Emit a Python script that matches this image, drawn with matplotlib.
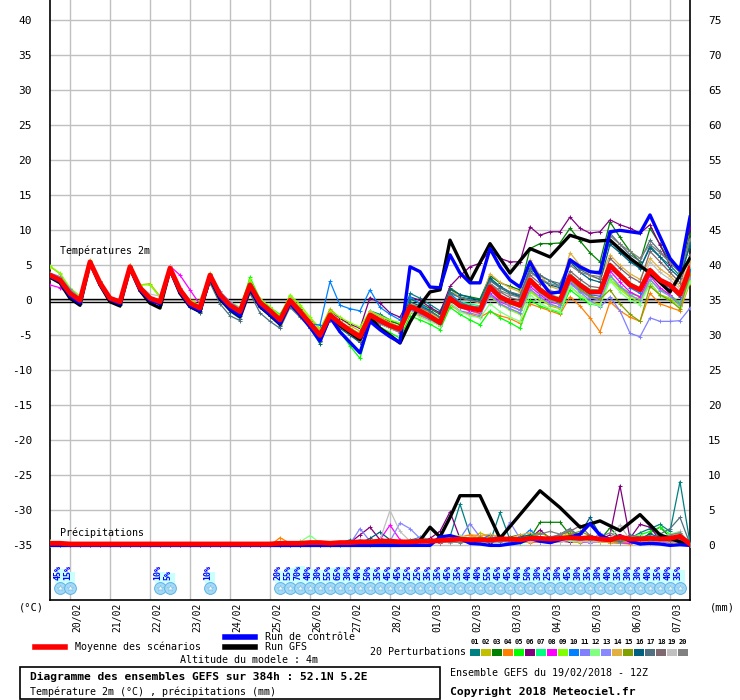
import numpy as np
import matplotlib.pyplot as plt
from matplotlib.lines import Line2D
from matplotlib.patches import Rectangle

# time axis (hours from 19/02 12Z)
hours = np.arange(0, 385, 6)
gfs_hours = np.r_[np.arange(0, 241, 6), np.arange(252, 385, 12)]
gfs_p_hours = np.r_[np.arange(0, 241, 6), np.arange(246, 379, 12), 384]

day_hours = np.arange(12, 384, 24)
day_labels = ['20/02', '21/02', '22/02', '23/02', '24/02', '25/02', '26/02', '27/02',
              '28/02', '01/03', '02/03', '03/03', '04/03', '05/03', '06/03', '07/03']

# temperature 2m (C)
t_mean = [3.6, 2.9, 1.0, 0.0, 5.5, 2.5, 0.3, -0.2, 4.8, 1.8, 0.3, -0.2, 4.6, 1.5, -0.4, -1.1,
          3.6, 0.8, -0.7, -1.6, 2.2, -0.3, -1.5, -2.8,
          0.0, -1.6, -3.3, -5.0, -2.1, -3.3, -4.3, -5.2, -2.1, -2.9, -3.6, -4.1, -0.9, -1.5, -2.3, -3.2,
          0.3, -0.8, -1.1, -1.4,
          1.9, 0.5, -0.2, -0.7, 2.9, 1.5, 0.5, 0.0, 3.4, 2.2, 1.2, 1.2, 5.0, 3.6, 2.2, 1.5, 4.3, 2.9,
          2.2, 0.8, 4.6]
t_ctrl = [3.4, 2.7, 0.6, -0.4, 5.4, 2.3, 0.1, -0.5, 4.7, 1.5, 0.0, -0.5, 4.4, 1.2, -0.8, -1.5,
          3.3, 0.4, -1.2, -2.2, 1.8, -0.8, -2.0, -3.3,
          -0.4, -2.0, -3.8, -5.8, -2.4, -4.5, -6.0, -7.5, -3.0, -4.2, -5.2, -6.0, 4.8, 4.1, 1.9, 1.8,
          6.5, 3.9, 2.5, 2.5,
          7.4, 4.8, 2.9, 1.9, 5.5, 2.9, 1.0, 1.2, 5.8, 4.8, 4.1, 3.9, 9.8, 10.0, 9.8, 9.6, 12.2, 9.1,
          6.0, 4.3, 11.9]
t_gfs = [3.3, 2.5, 0.3, -0.7, 5.4, 2.2, -0.2, -0.8, 4.6, 1.4, -0.4, -1.1, 4.4, 1.0, -0.9, -1.6,
         3.2, 0.2, -1.3, -2.3, 1.6, -0.9, -2.1, -3.4,
         -0.3, -2.0, -3.6, -5.4, -2.2, -3.6, -4.6, -5.6, -2.4, -4.0, -5.0, -6.1, -3.1, -0.7, 1.2, 1.5,
         8.6,
         2.7, 8.1, 3.9, 7.4, 6.2, 9.3, 8.4, 8.6, 6.0, 3.9, 1.2, 6.0]

t01 = [3.3, 2.6, 0.6, -0.3, 5.4, 2.3, 0.1, -0.5, 4.7, 1.6, 0.0, -0.5, 4.3, 1.2, -0.8, -1.5, 3.2, 0.4, -1.2, -2.2, 1.8, -0.8, -2.0, -3.2,
       -0.5, -2.0, -3.8, -5.8, -2.6, -3.6, -4.8, -6.0, -1.5, -2.0, -2.8, -3.5, 1.0, 0.3, -0.6, -1.5, 1.2, 0.5, 0.2, -0.3,
       3.0, 1.8, 1.0, 0.5, 4.5, 3.5, 2.8, 2.0, 5.8, 4.5, 4.0, 4.2, 8.5, 7.0, 5.8, 4.5, 7.8, 6.2, 5.0, 3.5, 8.0]
t02 = [4.8, 3.8, 1.6, 0.5, 5.6, 2.8, 0.5, 0.0, 5.0, 2.2, 2.4, 0.6, 4.8, 1.8, 0.0, 0.0, 3.8, 1.0, -0.5, -1.3, 2.6, 0.0, -1.0, -2.4,
       0.6, -1.0, -2.6, -4.2, -1.2, -2.5, -3.6, -4.4, -1.6, -2.4, -3.2, -3.8, -0.6, -1.2, -2.0, -2.8, 0.0, -1.0, -1.5, -2.0,
       0.8, -0.5, -1.2, -1.8, 1.5, 0.2, -0.8, -1.2, 2.0, 0.8, -0.2, -0.5, 3.0, 1.8, 0.6, 0.2, 2.5, 0.8, 0.3, -0.6, 3.2]
t03 = [3.8, 3.1, 1.2, 0.2, 5.5, 2.6, 0.4, -0.1, 4.9, 2.0, 0.5, 0.0, 4.7, 1.7, -0.2, -0.9, 3.7, 1.0, -0.5, -1.4, 2.4, -0.1, -1.3, -2.6,
       0.3, -1.3, -3.0, -4.6, -1.8, -3.0, -4.0, -4.8, -1.8, -2.5, -3.0, -3.4, 0.2, -0.4, -1.2, -2.0, 1.8, 0.8, 0.5, 0.2,
       3.5, 2.5, 2.0, 1.5, 7.4, 8.1, 8.1, 8.2, 10.3, 8.5, 6.8, 5.5, 11.2, 9.0, 7.0, 5.5, 10.3, 8.0, 5.5, 4.0, 9.5]
t04 = [3.2, 2.6, 0.8, -0.2, 5.3, 2.3, 0.2, -0.4, 4.6, 1.6, 0.1, -0.4, 4.4, 1.3, -0.6, -1.3, 3.4, 0.6, -1.0, -1.9, 1.9, -0.8, -2.2, -3.5,
       -0.6, -2.2, -3.8, -5.4, -2.8, -3.6, -4.6, -5.6, -2.8, -3.3, -4.0, -4.6, -1.8, -2.2, -2.8, -3.6, -0.6, -1.6, -2.0, -2.4,
       -1.6, -2.2, -2.6, -3.3, -0.5, -1.0, -1.5, -2.0, 0.5, -0.8, -2.5, -4.5, -0.2, -1.5, -2.4, -3.0, 1.0, -0.5, -1.0, -1.5, 2.5]
t05 = [3.5, 2.8, 0.9, -0.1, 5.6, 2.5, 0.3, -0.3, 4.8, 1.8, 0.2, -0.3, 4.6, 1.5, -0.5, -1.2, 3.8, 1.0, -0.5, -1.3, 3.3, 0.2, -1.0, -2.0,
       0.4, -1.8, -4.0, -6.0, -2.6, -4.5, -6.5, -8.3, -3.0, -3.8, -4.6, -5.4, -2.2, -2.8, -3.4, -4.2, -1.0, -2.0, -2.8, -3.5,
       -1.5, -2.5, -3.2, -4.0, 0.0, -0.8, -1.3, -1.8, 1.5, 0.4, -0.5, -0.8, 3.5, 2.0, 1.0, 0.5, 3.0, 1.5, 0.8, -0.4, 3.0]
t06 = [3.6, 3.0, 1.1, 0.1, 5.5, 2.6, 0.4, -0.1, 4.8, 1.9, 0.4, -0.1, 4.6, 1.6, -0.3, -1.0, 3.7, 0.9, -0.6, -1.4, 2.3, -0.2, -1.3, -2.6,
       0.2, -1.4, -3.0, -4.6, -1.5, -2.6, -3.4, -4.0, 0.4, -0.4, -1.8, -2.4, 0.5, 0.0, -1.0, -1.8, 2.0, 3.5, 4.8, 5.3,
       7.2, 6.0, 5.5, 5.5, 10.5, 9.3, 9.8, 9.8, 11.9, 10.3, 9.6, 9.8, 11.5, 10.8, 10.3, 9.6, 10.8, 7.9, 5.0, 4.8, 10.3]
t07 = [3.7, 3.0, 1.2, 0.2, 5.6, 2.7, 0.5, 0.0, 4.9, 2.0, 0.4, -0.1, 4.7, 1.6, -0.3, -1.0, 3.7, 0.9, -0.6, -1.5, 2.4, -0.2, -1.4, -2.7,
       0.0, -1.6, -3.2, -4.8, -2.0, -3.2, -4.0, -4.8, -2.0, -2.8, -3.4, -3.8, -0.6, -1.2, -2.0, -2.8, 0.8, -0.2, -0.5, -0.8,
       2.2, 0.8, 0.0, -0.5, 3.2, 1.8, 0.8, 0.4, 3.8, 2.5, 1.6, 1.4, 5.2, 3.8, 2.5, 1.8, 4.5, 3.0, 2.4, 1.0, 4.8]
t08 = [2.2, 1.8, 0.8, 0.0, 5.4, 2.5, 0.3, -0.2, 4.7, 1.8, 0.3, -0.2, 4.9, 3.6, 1.5, -0.6, 3.8, 0.9, -0.6, -1.6, 2.1, -0.4, -1.6, -3.0,
       -0.3, -1.8, -3.6, -5.8, -2.4, -3.6, -4.6, -6.0, -2.4, -3.2, -3.8, -4.4, -1.0, -1.7, -2.5, -3.3, 0.2, -1.0, -1.5, -1.8,
       1.0, -0.2, -0.8, -1.4, 2.0, 0.8, -0.2, -0.6, 2.6, 1.4, 0.5, 0.3, 4.2, 2.6, 1.2, 0.5, 3.5, 1.8, 0.8, -0.8, 4.0]
t09 = [4.9, 3.9, 1.8, 0.6, 5.7, 2.8, 0.5, 0.0, 5.0, 2.2, 2.2, 0.4, 4.8, 1.8, -0.1, -0.6, 3.9, 1.2, -0.2, -1.0, 3.0, 0.2, -0.9, -2.2,
       0.8, -0.6, -2.4, -4.0, -1.5, -2.4, -3.2, -3.8, -1.5, -2.2, -2.8, -3.2, -0.6, -1.2, -2.0, -2.8, 0.5, -0.8, -1.2, -1.6,
       0.6, -0.6, -1.4, -2.0, 1.2, 0.2, -0.6, -1.1, 2.0, 0.8, -0.3, -0.6, 3.0, 1.6, 0.4, -0.2, 2.4, 0.8, 0.2, -0.8, 2.8]
t10 = [3.4, 2.8, 0.8, -0.2, 5.4, 2.3, 0.1, -0.4, 4.7, 1.6, 0.1, -0.4, 4.4, 1.3, -0.6, -1.3, 3.3, 0.5, -1.0, -2.0, 1.9, -0.7, -1.8, -3.1,
       -0.4, -2.0, -3.4, -3.5, 2.7, -0.7, -1.2, -1.5, 1.5, -1.0, -2.0, -2.8, 0.5, -0.5, -1.5, -2.5, 1.0, -0.3, -0.8, -1.0,
       2.0, 0.6, 0.0, -0.5, 2.8, 1.2, 0.2, -0.2, 3.2, 1.8, 0.8, 0.6, 4.6, 3.2, 1.8, 1.0, 4.0, 2.6, 1.8, 0.5, 4.2]
t11 = [3.9, 3.4, 1.6, 0.3, 5.5, 2.7, 0.5, 0.0, 4.8, 1.9, 0.4, -0.1, 4.8, 1.8, -0.2, -0.9, 3.6, 1.3, -0.2, -1.2, 2.2, -0.2, -1.3, -2.6,
       -0.2, -1.8, -3.6, -5.2, -2.4, -3.5, -4.5, -5.4, -2.6, -3.4, -4.0, -4.6, -1.4, -2.0, -2.8, -3.6, -0.4, -1.5, -1.8, -2.2,
       0.8, -0.5, -1.2, -1.8, 1.6, 0.5, -0.5, -1.0, 2.4, 1.2, 0.0, -1.0, 0.5, -1.5, -4.7, -5.2, -2.5, -3.0, -3.0, -2.9, -1.1]
t12 = [3.6, 2.9, 1.0, -0.1, 5.6, 2.6, 0.4, -0.2, 4.8, 1.9, 0.3, -0.2, 4.7, 1.6, -0.4, -1.1, 3.6, 0.9, -0.7, -1.5, 2.4, -0.2, -1.4, -2.7,
       0.4, -1.4, -3.2, -5.0, -2.0, -3.4, -4.6, -5.6, -2.4, -3.2, -4.0, -4.4, -1.6, -2.4, -3.0, -3.6, -0.4, -1.6, -2.2, -2.5,
       -0.5, -1.6, -2.4, -3.0, 0.8, -0.4, -1.2, -1.6, 2.0, 0.8, -0.4, -0.8, 2.8, 1.2, 0.0, -0.6, 2.4, 0.6, 0.0, -1.0, 2.6]
t13 = [3.5, 2.9, 1.1, 0.0, 5.5, 2.5, 0.3, -0.2, 4.8, 1.8, 0.3, -0.2, 4.6, 1.5, -0.4, -1.1, 3.6, 0.8, -0.7, -1.6, 2.2, -0.3, -1.5, -2.8,
       -0.1, -1.7, -3.4, -5.1, -2.2, -3.4, -4.4, -5.3, -2.2, -3.0, -3.7, -4.2, -1.0, -1.6, -2.4, -3.3, 0.2, -0.9, -1.2, -1.5,
       1.5, 0.0, -0.8, -1.4, 2.4, 1.0, 0.0, -0.6, 2.8, 1.4, 0.4, 0.0, 3.6, 2.0, 0.8, 0.0, 3.0, 1.4, 0.6, -0.6, 3.4]
t14 = [3.7, 3.0, 1.1, 0.1, 5.5, 2.6, 0.4, -0.1, 4.8, 1.9, 0.4, -0.1, 4.6, 1.6, -0.3, -1.0, 3.7, 0.9, -0.6, -1.5, 2.3, -0.2, -1.4, -2.7,
       0.2, -1.4, -3.0, -4.8, -1.8, -3.0, -4.0, -4.8, -1.6, -2.4, -3.2, -3.8, -0.4, -1.0, -1.8, -2.6, 1.6, 0.4, 0.0, -0.4,
       3.8, 2.6, 1.8, 1.2, 5.8, 3.6, 2.0, 1.5, 6.8, 5.0, 3.5, 3.0, 6.5, 5.0, 3.8, 3.0, 6.0, 4.5, 3.5, 2.0, 5.5]
t15 = [3.8, 3.2, 1.3, 0.2, 5.5, 2.6, 0.4, -0.1, 4.8, 1.9, 0.4, -0.1, 4.7, 1.7, -0.2, -0.9, 3.7, 1.0, -0.5, -1.4, 2.3, -0.1, -1.3, -2.6,
       0.2, -1.4, -3.2, -4.9, -2.0, -3.2, -4.2, -5.0, -2.0, -2.8, -3.5, -4.0, -0.8, -1.4, -2.2, -3.0, 0.4, -0.6, -1.0, -1.2,
       1.6, 0.2, -0.5, -1.0, 2.6, 1.2, 0.2, -0.4, 3.0, 1.6, 0.6, 0.2, 1.5, -0.5, -2.0, -3.0, 2.0, 0.8, 0.0, -1.2, 3.8]
t16 = [3.3, 2.6, 0.5, -0.5, 5.3, 2.2, 0.0, -0.6, 4.6, 1.4, -0.1, -0.6, 4.2, 1.0, -1.0, -1.8, 2.8, 0.0, -1.6, -2.6, 1.6, -1.0, -2.3, -3.6,
       -0.8, -2.2, -4.0, -6.2, -2.8, -4.0, -5.0, -6.0, -2.6, -3.2, -3.8, -4.4, -0.2, -0.8, -1.5, -2.4, 1.6, 0.8, 0.4, 0.0,
       3.2, 2.0, 1.2, 0.6, 4.2, 3.0, 2.2, 1.8, 5.5, 4.0, 3.0, 2.6, 8.0, 6.8, 5.5, 4.6, 7.5, 6.2, 4.5, 3.2, 7.8]
t17 = [3.4, 2.7, 0.7, -0.4, 5.4, 2.3, 0.1, -0.5, 4.6, 1.5, 0.0, -0.5, 4.3, 1.0, -0.9, -1.7, 2.5, -0.5, -2.2, -2.9, 1.0, -1.8, -3.0, -4.0,
       -1.0, -2.4, -4.0, -5.8, -2.6, -3.8, -4.8, -5.8, -2.6, -3.2, -3.8, -4.2, -0.6, -1.0, -1.6, -2.4, 1.0, 0.4, 0.0, -0.2,
       2.8, 1.8, 1.2, 0.8, 4.6, 3.6, 2.8, 2.4, 5.6, 4.4, 3.6, 3.0, 9.6, 8.0, 6.5, 5.6, 8.6, 7.0, 5.4, 4.0, 8.6]
t18 = [3.6, 2.9, 1.0, 0.0, 5.5, 2.5, 0.3, -0.2, 4.8, 1.8, 0.3, -0.2, 4.6, 1.5, -0.4, -1.1, 3.5, 0.7, -0.8, -1.7, 2.1, -0.4, -1.6, -2.9,
       -0.2, -1.8, -3.4, -5.2, -2.2, -3.4, -4.4, -5.4, -2.2, -3.0, -3.6, -4.2, -0.8, -1.4, -2.2, -3.0, 0.6, -0.4, -0.8, -1.0,
       2.4, 1.2, 0.4, 0.0, 3.6, 2.4, 1.4, 1.0, 4.2, 3.0, 2.0, 1.8, 6.0, 4.6, 3.4, 2.6, 7.0, 5.5, 4.0, 2.5, 6.5]
t19 = [3.7, 3.0, 1.1, 0.1, 5.6, 2.6, 0.4, -0.1, 5.0, 2.0, 0.9, 0.6, 4.9, 1.8, -0.1, -0.8, 3.8, 1.0, -0.5, -1.4, 2.4, -0.1, -1.3, -2.6,
       0.2, -1.5, -3.2, -4.9, -2.1, -3.2, -4.2, -5.0, -2.0, -2.8, -3.4, -4.0, -0.8, -1.4, -2.2, -3.0, 0.4, -0.8, -1.2, -1.4,
       2.0, 0.8, 0.0, -0.6, 3.2, 1.8, 0.8, 0.3, 3.6, 2.4, 1.5, 1.2, 4.8, 3.5, 2.4, 1.8, 5.5, 4.0, 3.0, 1.6, 5.0]
t20 = [3.6, 2.9, 1.0, 0.0, 5.5, 2.5, 0.3, -0.2, 4.8, 1.8, 0.3, -0.2, 4.6, 1.5, -0.4, -1.1, 3.6, 0.7, -0.8, -1.7, 2.0, -0.6, -1.8, -3.0,
       -0.3, -1.9, -3.6, -5.6, -2.4, -3.6, -4.6, -5.8, -2.4, -3.2, -3.8, -4.6, -1.2, -1.8, -2.6, -3.4, 0.4, -0.6, -1.0, -1.2,
       2.4, 1.4, 0.8, 0.4, 4.0, 3.0, 2.4, 2.0, 5.0, 4.0, 3.6, 3.4, 9.2, 8.0, 7.0, 6.0, 8.0, 6.8, 5.4, 4.0, 8.8]

# precipitation (mm / 6h)
p_mean = [0.3, 0.3, 0.2, 0.2, 0.2, 0.2, 0.2, 0.2, 0.2, 0.2, 0.2, 0.2, 0.2, 0.2, 0.2, 0.2, 0.2, 0.2, 0.2, 0.2,
          0.2, 0.2, 0.2, 0.3, 0.3, 0.3, 0.4, 0.4, 0.3, 0.4, 0.4, 0.5, 0.5, 0.6, 0.6, 0.5, 0.5, 0.6, 0.6, 0.7,
          0.8, 0.9, 0.8, 0.8, 0.8, 0.9, 0.9, 0.8, 1.0, 1.0, 0.9, 1.0, 1.1, 1.0, 1.1, 0.9, 0.8, 1.2, 0.9, 0.9,
          1.0, 0.9, 1.0, 1.3, 0.2]
p_ctrl = [0, 0, 0, 0, 0, 0, 0, 0, 0, 0, 0, 0, 0, 0, 0, 0, 0, 0, 0, 0,
          0, 0, 0, 0, 0, 0, 0, 0, 0, 0, 0, 0, 0, 0, 0, 0, 0, 0, 0, 1.2,
          1.4, 1.0, 0.3, 0.2, 0.0, 0.0, 0.2, 0.4, 1.0, 0.6, 0.4, 0.8, 1.2, 1.6, 3.1, 1.5, 0.8, 1.4, 0.6, 0.2,
          0.3, 0.2, 0.0, 0.1, 0.0]
p_gfs = [0, 0, 0, 0, 0, 0, 0, 0, 0, 0, 0, 0, 0, 0, 0, 0, 0, 0, 0, 0,
         0, 0, 0, 0, 0, 0, 0, 0, 0, 0, 0, 0, 0, 0, 0, 0, 0.2, 0.7, 2.6, 1.2,
         4.0, 7.1, 7.1, 1.0, 4.4, 7.8, 5.4, 2.6, 3.5, 2.1, 4.4, 1.5, 0.5, 0.0]

p01 = [0, 0, 0, 0, 0, 0, 0, 0, 0, 0, 0, 0, 0, 0, 0, 0, 0, 0, 0, 0,
       0, 0, 0, 0, 0.2, 0.3, 0.2, 0.3, 0.2, 0.3, 0.8, 0.5, 0.3, 1.0, 0.6, 0.4, 0.8, 1.0, 0.6, 0.5,
       1.2, 5.9, 1.5, 0.6, 0.4, 4.7, 0.8, 0.5, 0.6, 1.0, 0.8, 0.6, 1.2, 0.8, 1.5, 0.8, 0.6, 0.5, 1.0, 1.8,
       2.4, 3.0, 2.0, 9.1, 0.3]
p02 = [0, 0, 0, 0, 0, 0, 0, 0, 0, 0, 0, 0, 0, 0, 0, 0, 0, 0, 0, 0,
       0, 0, 0, 0, 0.1, 0.2, 0.1, 0.0, 0.1, 0.1, 0.2, 0.3, 0.2, 0.4, 0.3, 0.2, 0.5, 0.3, 0.6, 0.8,
       0.8, 1.0, 0.7, 1.8, 1.2, 0.8, 0.6, 1.0, 1.5, 1.2, 0.8, 1.0, 2.0, 1.4, 0.6, 0.5, 0.4, 0.3, 0.4, 0.6,
       0.5, 0.4, 0.6, 0.8, 0.1]
p03 = [0, 0, 0, 0, 0, 0, 0, 0, 0, 0, 0, 0, 0, 0, 0, 0, 0, 0, 0, 0,
       0, 0, 0, 0, 0.1, 0.2, 0.3, 0.2, 0.1, 0.2, 0.3, 0.2, 0.3, 0.5, 0.3, 0.2, 0.4, 0.6, 0.4, 0.5,
       0.6, 0.5, 0.8, 0.6, 0.8, 0.9, 1.2, 1.5, 1.0, 3.3, 3.3, 3.3, 1.5, 0.8, 0.6, 0.8, 2.5, 1.0, 0.6, 0.5,
       1.8, 2.6, 1.2, 0.8, 0.1]
p04 = [0, 0, 0, 0, 0, 0, 0, 0, 0, 0, 0, 0, 0, 0, 0, 0, 0, 0, 0, 0,
       0, 0, 0, 1.1, 0.3, 0.2, 0.1, 0.2, 0.1, 0.1, 0.4, 0.3, 0.2, 0.6, 0.4, 0.3, 0.2, 0.6, 0.4, 0.7,
       1.0, 1.2, 1.5, 1.4, 1.5, 1.3, 1.0, 0.6, 0.4, 0.5, 0.3, 0.6, 0.5, 0.4, 0.8, 0.6, 0.4, 0.3, 0.2, 0.4,
       0.3, 0.5, 0.4, 0.6, 0.1]
p05 = [0, 0, 0, 0, 0, 0, 0, 0, 0, 0, 0, 0, 0, 0, 0, 0, 0, 0, 0, 0,
       0, 0, 0, 0, 0.1, 0.2, 0.4, 0.3, 0.2, 0.1, 0.2, 0.3, 0.1, 0.4, 0.3, 0.5, 0.3, 0.6, 0.8, 0.6,
       0.5, 0.9, 1.0, 0.6, 0.5, 0.8, 0.6, 0.4, 0.6, 0.8, 1.0, 0.8, 0.6, 0.5, 0.6, 0.8, 1.0, 0.8, 1.2, 1.5,
       2.0, 2.6, 1.6, 1.8, 0.2]
p06 = [0, 0, 0, 0, 0, 0, 0, 0, 0, 0, 0, 0, 0, 0, 0, 0, 0, 0, 0, 0,
       0, 0, 0, 0, 0.1, 0.2, 0.2, 0.3, 0.2, 0.3, 0.4, 1.5, 2.6, 0.8, 0.5, 0.4, 0.6, 0.5, 1.0, 2.0,
       4.8, 1.0, 0.6, 0.5, 0.4, 0.6, 0.8, 0.6, 1.0, 2.2, 1.0, 0.6, 0.5, 0.8, 1.2, 0.8, 1.5, 8.5, 1.0, 3.0,
       2.6, 0.8, 0.6, 0.4, 0.1]
p07 = [0, 0, 0, 0, 0, 0, 0, 0, 0, 0, 0, 0, 0, 0, 0, 0, 0, 0, 0, 0,
       0, 0, 0, 0, 0.2, 0.6, 0.4, 0.3, 0.2, 0.3, 0.2, 0.3, 0.2, 0.4, 0.3, 0.2, 0.4, 0.6, 0.5, 0.4,
       0.6, 0.8, 0.5, 0.6, 0.8, 0.6, 0.4, 0.5, 0.6, 0.8, 0.6, 0.8, 1.0, 0.8, 0.6, 0.5, 0.8, 0.6, 1.0, 0.8,
       0.6, 0.8, 1.0, 0.6, 0.1]
p08 = [0, 0, 0, 0, 0, 0, 0, 0, 0, 0, 0, 0, 0, 0, 0, 0, 0, 0, 0, 0,
       0, 0, 0, 0, 0, 0.1, 0.2, 0.1, 0.3, 0.2, 0.3, 0.2, 0.4, 0.8, 2.9, 0.8, 0.4, 0.3, 0.5, 0.4,
       0.6, 0.5, 0.4, 0.6, 0.8, 0.6, 0.5, 0.8, 0.6, 0.5, 0.4, 0.6, 0.8, 0.5, 0.4, 0.6, 0.5, 0.4, 0.3, 0.6,
       0.8, 0.5, 0.6, 1.0, 0.1]
p09 = [0, 0, 0, 0, 0, 0, 0, 0, 0, 0, 0, 0, 0, 0, 0, 0, 0, 0, 0, 0,
       0, 0, 0, 0, 0.1, 0.1, 0.2, 0.3, 0.1, 0.2, 0.3, 0.2, 0.1, 0.3, 0.2, 0.4, 0.3, 0.5, 0.8, 0.6,
       0.8, 0.6, 0.5, 0.4, 0.6, 0.5, 0.8, 1.0, 1.6, 1.2, 0.8, 1.5, 2.0, 1.2, 0.8, 0.6, 1.0, 0.8, 0.5, 0.6,
       1.0, 0.8, 1.2, 1.5, 0.1]
p10 = [0, 0, 0, 0, 0, 0, 0, 0, 0, 0, 0, 0, 0, 0, 0, 0, 0, 0, 0, 0,
       0, 0, 0, 0, 0.1, 0.2, 0.1, 0.2, 0.3, 0.2, 0.3, 0.2, 0.2, 0.3, 0.4, 0.3, 0.6, 1.2, 0.8, 0.5,
       0.6, 0.8, 0.6, 0.8, 1.5, 1.2, 0.8, 1.0, 2.2, 1.0, 0.6, 0.8, 1.0, 1.6, 3.2, 1.2, 0.8, 1.0, 0.6, 0.4,
       0.6, 0.5, 0.8, 0.6, 0.1]
p11 = [0, 0, 0, 0, 0, 0, 0, 0, 0, 0, 0, 0, 0, 0, 0, 0, 0, 0, 0, 0,
       0, 0, 0, 0, 0.1, 0.1, 0.2, 0.1, 0.3, 0.2, 0.2, 2.4, 0.6, 0.3, 0.4, 0.6, 0.4, 0.5, 0.6, 0.5,
       0.8, 1.0, 3.1, 1.2, 0.8, 0.6, 0.5, 0.8, 0.6, 0.5, 0.6, 0.8, 1.2, 0.8, 0.5, 1.8, 0.6, 0.4, 0.8, 0.6,
       0.4, 0.5, 0.6, 0.8, 0.1]
p12 = [0.6, 0, 0, 0, 0, 0, 0, 0, 0, 0, 0, 0, 0, 0, 0, 0, 0, 0, 0, 0,
       0, 0, 0, 0, 0.2, 0.5, 1.4, 0.4, 0.2, 0.3, 0.2, 0.3, 0.2, 0.4, 0.5, 0.3, 0.6, 1.0, 0.8, 0.6,
       1.2, 1.4, 1.0, 0.8, 0.6, 0.8, 0.6, 0.5, 0.8, 0.6, 0.5, 0.8, 0.6, 0.5, 0.8, 0.6, 0.5, 0.8, 1.2, 1.5,
       1.0, 1.2, 1.6, 2.0, 0.1]
p13 = [0, 0, 0, 0, 0, 0, 0, 0, 0, 0, 0, 0, 0, 0, 0, 0, 0, 0, 0, 0,
       0, 0, 0, 0, 0, 0.1, 0.2, 0.1, 0.2, 0.3, 0.3, 0.8, 0.4, 0.2, 0.6, 3.2, 2.4, 1.0, 0.6, 0.5,
       0.4, 0.6, 0.8, 1.0, 0.6, 0.8, 3.3, 1.0, 0.6, 0.8, 0.6, 0.5, 0.8, 0.6, 0.4, 0.6, 0.5, 0.4, 0.6, 0.8,
       0.5, 0.6, 0.4, 0.6, 0.1]
p14 = [0, 0, 0, 0, 0, 0, 0, 0, 0, 0, 0, 0, 0, 0, 0, 0, 0, 0, 0, 0,
       0, 0, 0, 0, 0.1, 0.1, 0.2, 0.3, 0.2, 0.4, 0.3, 0.2, 0.4, 0.3, 0.2, 0.3, 0.5, 0.4, 0.6, 0.8,
       1.0, 0.8, 1.2, 1.4, 1.6, 1.2, 1.0, 1.5, 1.8, 1.2, 0.8, 0.6, 0.8, 1.0, 0.6, 0.5, 0.4, 0.6, 0.5, 0.4,
       0.6, 0.8, 0.5, 0.4, 0.1]
p15 = [0, 0, 0, 0, 0, 0, 0, 0, 0, 0, 0, 0, 0, 0, 0, 0, 0, 0, 0, 0,
       0, 0, 0, 0, 0.1, 0.2, 0.1, 0.2, 0.3, 0.2, 0.2, 0.3, 0.2, 0.3, 0.2, 0.4, 0.3, 0.5, 0.4, 0.6,
       0.5, 0.6, 0.8, 1.2, 0.8, 0.6, 0.8, 1.0, 1.4, 1.8, 1.2, 1.0, 1.6, 2.0, 1.4, 0.8, 0.6, 0.5, 0.8, 1.2,
       1.0, 0.8, 1.4, 1.0, 0.1]
p16 = [0, 0, 0, 0, 0, 0, 0, 0, 0, 0, 0, 0, 0, 0, 0, 0, 0, 0, 0, 0,
       0, 0, 0, 0, 0.2, 0.1, 0.3, 0.2, 0.4, 0.3, 0.6, 0.3, 1.0, 1.9, 0.8, 0.5, 0.6, 0.8, 0.6, 0.5,
       0.8, 0.6, 0.5, 0.8, 0.6, 1.0, 0.8, 1.2, 1.5, 1.0, 1.2, 1.0, 0.8, 1.6, 4.0, 1.5, 1.0, 0.8, 1.2, 1.0,
       1.6, 1.2, 0.8, 1.0, 0.2]
p17 = [0, 0, 0, 0, 0, 0, 0, 0, 0, 0, 0, 0, 0, 0, 0, 0, 0, 0, 0, 0,
       0, 0, 0, 0, 0.1, 0.2, 0.2, 0.1, 0.3, 0.2, 0.3, 0.4, 0.3, 0.5, 0.4, 0.6, 0.4, 0.5, 0.8, 0.6,
       0.5, 0.8, 0.6, 0.5, 0.8, 1.0, 0.6, 0.8, 1.2, 0.8, 1.0, 1.6, 2.4, 1.2, 0.8, 1.0, 0.8, 0.6, 1.5, 1.2,
       1.0, 1.6, 2.4, 4.0, 0.2]
p18 = [0, 0, 0, 0, 0, 0, 0, 0, 0, 0, 0, 0, 0, 0, 0, 0, 0, 0, 0, 0,
       0, 0, 0, 0, 0.1, 0.1, 0.2, 0.1, 0.2, 0.3, 0.2, 0.4, 0.3, 0.2, 0.5, 0.4, 0.3, 0.6, 0.5, 0.4,
       0.6, 0.5, 0.8, 0.6, 0.5, 0.8, 1.0, 0.6, 0.8, 1.0, 1.2, 1.5, 2.0, 2.8, 1.4, 0.8, 0.6, 0.8, 0.6, 1.0,
       1.4, 0.8, 0.6, 0.8, 0.1]
p19 = [0, 0, 0, 0, 0, 0, 0, 0, 0, 0, 0, 0, 0, 0, 0, 0, 0, 0, 0, 0,
       0, 0, 0, 0, 0.1, 0.2, 0.1, 0.2, 0.3, 0.2, 0.3, 0.4, 0.3, 0.8, 5.0, 2.0, 0.6, 0.4, 0.3, 0.5,
       0.4, 0.6, 0.5, 0.4, 0.6, 0.5, 0.8, 0.6, 0.5, 0.8, 0.6, 0.5, 0.8, 0.6, 0.5, 0.6, 1.0, 2.9, 0.8, 0.6,
       0.8, 0.5, 1.0, 2.0, 0.1]
p20 = [0, 0, 0, 0, 0, 0, 0, 0, 0, 0, 0, 0, 0, 0, 0, 0, 0, 0, 0, 0,
       0, 0, 0, 0, 0.1, 0.1, 0.2, 0.3, 0.2, 0.1, 0.2, 0.3, 0.2, 0.4, 0.3, 0.2, 0.4, 0.5, 0.4, 0.6,
       0.5, 0.4, 0.6, 0.8, 0.6, 0.5, 0.8, 1.0, 1.2, 1.6, 2.0, 1.6, 2.2, 1.0, 0.8, 1.2, 1.8, 1.0, 0.6, 0.8,
       1.2, 1.0, 1.5, 1.8, 0.1]

pert_colors = ['#008080', '#c0c000', '#008000', '#ff8000', '#00ff00', '#800080', '#00ff80',
               '#ff00ff', '#80ff00', '#0080ff', '#8080ff', '#80ff80', '#8888ff', '#e0b040',
               '#80a000', '#006080', '#507080', '#806870', '#c0c0c0', '#808080']

# snow probability labels (hour of step, percent)
snow_hours = [6, 12, 66, 72, 96] + list(range(138, 379, 6))
snow_pct = [45, 15, 10, 5, 10,
            20, 55, 70, 40, 30, 55, 65, 30, 40, 50, 35, 45, 45, 25, 25, 35, 35, 45, 35, 40,
            40, 55, 45, 45, 40, 50, 30, 25, 30, 45, 30, 35, 30, 40, 35, 30, 30, 40, 35, 40, 35]

t_members = [t01, t02, t03, t04, t05, t06, t07, t08, t09, t10,
             t11, t12, t13, t14, t15, t16, t17, t18, t19, t20]
p_members = [p01, p02, p03, p04, p05, p06, p07, p08, p09, p10,
             p11, p12, p13, p14, p15, p16, p17, p18, p19, p20]

PBASE = -35.0
MONO = 'DejaVu Sans Mono'
W, H = 740, 700
PX = 1 / 7.0   # degrees per pixel on the y axis

fig = plt.figure(figsize=(W / 100, H / 100), dpi=100)
ax = fig.add_axes([50 / W, 100 / H, 640 / W, 600 / H])
ax.set_xlim(0, 384)
ax.set_ylim(-42.8, 42.9)

ax.set_yticks(range(-35, 41, 5))
ax.set_yticklabels([str(v) for v in range(-35, 41, 5)], family=MONO, fontsize=8)
ax.set_xticks(day_hours)
ax.set_xticklabels([])
ax.grid(True, color='#c0c0c0', lw=1)
ax.set_axisbelow(True)
ax.tick_params(length=0, pad=13)
for s in ['left', 'right', 'bottom']:
    ax.spines[s].set_color('black')
    ax.spines[s].set_linewidth(1.2)
ax.spines['top'].set_visible(False)

ax2 = ax.twinx()
ax2.set_ylim(ax.get_ylim())
ax2.set_yticks(range(-35, 41, 5))
ax2.set_yticklabels([str(v + 35) for v in range(-35, 41, 5)], family=MONO, fontsize=8)
ax2.tick_params(length=0, pad=13)
for s in ax2.spines.values():
    s.set_visible(False)

# zero line (double)
ax.axhline(0.2, color='black', lw=1, zorder=2)
ax.axhline(-0.25, color='black', lw=1, zorder=2)

# perturbations
for tm, pm, c in zip(t_members, p_members, pert_colors):
    ax.plot(hours, tm, color=c, lw=0.9, marker='+', ms=3, mew=0.7, zorder=3)
    ax.plot(hours, PBASE + np.array(pm), color=c, lw=0.9, marker='+', ms=3, mew=0.7, zorder=3)

ax.plot(gfs_hours, t_gfs, color='black', lw=2.4, zorder=4)
ax.plot(gfs_p_hours, PBASE + np.array(p_gfs), color='black', lw=2.4, zorder=4)
ax.plot(hours, t_ctrl, color='#0000ff', lw=2.4, zorder=5)
ax.plot(hours, PBASE + np.array(p_ctrl), color='#0000ff', lw=2.4, zorder=5)
ax.plot(hours, t_mean, color='#ff0000', lw=3.5, zorder=6)
ax.plot(hours, PBASE + np.array(p_mean), color='#ff0000', lw=3.5, zorder=6)

# snow probabilities
snow_x = np.array(snow_hours, dtype=float)
bar_base = -40.4
ax.bar(snow_x, (10 + 0.1 * np.array(snow_pct)) * PX, bottom=bar_base, width=6,
       color='#c8ffff', lw=0, zorder=1)
for h, p in zip(snow_x, snow_pct):
    ax.text(h - 1.2, -39.95, f'{p}%', rotation=90, ha='center', va='bottom', color='#0000ff',
            fontsize=6, family=MONO, weight='bold', zorder=7)
icon_y = np.full(len(snow_x), -41.1)
ax.scatter(snow_x, icon_y, s=72, color='#a6d8f4', edgecolor='#5ab4e6', lw=0.7,
           zorder=7, clip_on=False)
ax.scatter(snow_x, icon_y, s=22, marker='*', color='white', edgecolor='#5ab4e6', lw=0.3,
           zorder=8, clip_on=False)

# date labels
for h, lab in zip(day_hours, day_labels):
    ax.text(h + 4.2, -0.004, lab, rotation=90, ha='center', va='top', family=MONO,
            fontsize=7, transform=ax.get_xaxis_transform())


def ftext(x, y, s, **kw):
    kw.setdefault('family', MONO)
    kw.setdefault('fontsize', 7.2)
    kw.setdefault('va', 'center')
    fig.text(x / W, 1 - y / H, s, **kw)


ftext(60, 251, 'Températures 2m')
ftext(60, 533, 'Précipitations')
ftext(31, 607, '(°C)', ha='center', fontsize=7.5)
ftext(722, 607, '(mm)', ha='center', fontsize=7.5)

for (x0, x1, y, c) in [(35, 65, 647, '#ff0000'), (225, 255, 637, '#0000ff'), (225, 255, 647, 'black')]:
    fig.add_artist(Line2D([x0 / W, x1 / W], [1 - y / H, 1 - y / H], color=c, lw=4,
                          transform=fig.transFigure))
ftext(75, 647, 'Moyenne des scénarios')
ftext(265, 637, 'Run de contrôle')
ftext(265, 647, 'Run GFS')
ftext(180, 660, 'Altitude du modele : 4m')
ftext(370, 652, '20 Perturbations')

fig.add_artist(Rectangle((20 / W, 1 - 699 / H), 420 / W, 32 / H, fill=False, ec='black',
                         lw=1.2, transform=fig.transFigure))
ftext(30, 677, 'Diagramme des ensembles GEFS sur 384h : 52.1N 5.2E', weight='bold', fontsize=8.1)
ftext(30, 692, 'Température 2m (°C) , précipitations (mm)')
ftext(450, 673, 'Ensemble GEFS du 19/02/2018 - 12Z')
ftext(450, 692, 'Copyright 2018 Meteociel.fr', weight='bold', fontsize=8.2)

for i, c in enumerate(pert_colors):
    x0 = 470 + i * 10.95
    fig.add_artist(Rectangle((x0 / W, 1 - 656 / H), 10 / W, 7 / H, color=c, lw=0,
                             transform=fig.transFigure))
    ftext(x0 + 5, 642, f'{i + 1:02d}', ha='center', fontsize=5, weight='bold')

fig.savefig('out.png', dpi=100)
